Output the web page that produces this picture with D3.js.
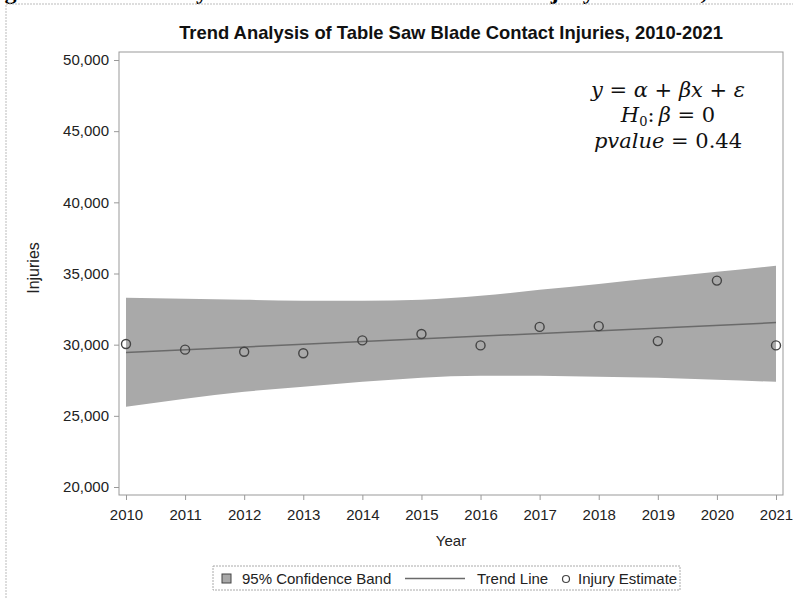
<body style="margin:0;background:#fff">
<script src="https://d3js.org/d3.v7.min.js"></script>
<script>
    const years = [2010, 2011, 2012, 2013, 2014, 2015, 2016, 2017, 2018, 2019, 2020, 2021];
    const injuries = [30050, 29650, 29500, 29400, 30300, 30750, 29950, 31250, 31300, 30250, 34500, 29950];
    const bandUpper = [33290, 33220, 33150, 33080, 33080, 33150, 33430, 33850, 34270, 34700, 35120, 35540];
    const bandLower = [25640, 26200, 26690, 27040, 27390, 27680, 27820, 27820, 27750, 27680, 27540, 27390];
    const trendYears = [2010, 2021];
    const trendValues = [29450, 31550];
    const yTicks = [20000, 25000, 30000, 35000, 40000, 45000, 50000];
    const legendLabels = ["95% Confidence Band", "Trend Line", "Injury Estimate"];

    const width = 793;
    const height = 598;
    const frame = {left: 119, top: 52, right: 783, bottom: 495};
    const font = "'Liberation Sans', Arial, sans-serif";
    const captionFont = "'Liberation Serif', 'Times New Roman', serif";
    const mathFont = "'DejaVu Serif', 'Liberation Serif', serif";

    const xScale = d3.scaleLinear()
        .domain([2010, 2021])
        .range([126, 776]);

    const yScale = d3.scaleLinear()
        .domain([20000, 50000])
        .range([487, 60]);

    const svg = d3.select("body")
        .append("svg")
        .attr("width", width)
        .attr("height", height)
        .style("display", "block");

    // clipped figure caption above the graph border
    svg.append("text")
        .attr("x", 400)
        .attr("y", -1)
        .attr("text-anchor", "middle")
        .style("font-family", captionFont)
        .style("font-weight", "bold")
        .style("font-size", "24px")
        .text("Figure 4. Trend Analysis of Table Saw Blade Contact Injury Estimates, 2010-2021");

    // outer graph border
    svg.append("path")
        .attr("d", "M6," + height + "V4H" + width)
        .attr("fill", "none")
        .attr("stroke", "#bbb")
        .attr("stroke-dasharray", "2,1");

    // confidence band
    const bandData = years.map((yr, i) => ({x: yr, lo: bandLower[i], hi: bandUpper[i]}));
    svg.append("path")
        .datum(bandData)
        .attr("fill", "#a9a9a9")
        .attr("d", d3.area()
            .curve(d3.curveMonotoneX)
            .x(d => xScale(d.x))
            .y0(d => yScale(d.lo))
            .y1(d => yScale(d.hi)));

    // trend line
    svg.append("path")
        .datum(trendYears.map((yr, i) => [yr, trendValues[i]]))
        .attr("fill", "none")
        .attr("stroke", "#6a6a6a")
        .attr("stroke-width", 1.5)
        .attr("d", d3.line().x(d => xScale(d[0])).y(d => yScale(d[1])));

    // injury estimates
    svg.selectAll("circle.pt")
        .data(years)
        .enter()
        .append("circle")
        .attr("class", "pt")
        .attr("cx", yr => xScale(yr))
        .attr("cy", (yr, i) => yScale(injuries[i]))
        .attr("r", 4.5)
        .attr("fill", "none")
        .attr("stroke", "#444")
        .attr("stroke-width", 1.4);

    // plot frame
    svg.append("rect")
        .attr("x", frame.left)
        .attr("y", frame.top)
        .attr("width", frame.right - frame.left)
        .attr("height", frame.bottom - frame.top)
        .attr("fill", "none")
        .attr("stroke", "#999");

    // axes
    const yAxis = d3.axisLeft(yScale)
        .tickValues(yTicks)
        .tickSize(5)
        .tickPadding(5)
        .tickFormat(d3.format(","));

    const xAxis = d3.axisBottom(xScale)
        .tickValues(years)
        .tickSize(5)
        .tickPadding(9)
        .tickFormat(d3.format("d"));

    const gy = svg.append("g")
        .attr("transform", "translate(" + frame.left + ",0)")
        .call(yAxis);

    const gx = svg.append("g")
        .attr("transform", "translate(0," + frame.bottom + ")")
        .call(xAxis);

    [gx, gy].forEach(g => {
        g.select(".domain").remove();
        g.selectAll("line").attr("stroke", "#999");
        g.selectAll("text")
            .attr("fill", "#222")
            .style("font-family", font)
            .style("font-size", "15px");
    });

    // titles
    svg.append("text")
        .attr("x", 451)
        .attr("y", 39)
        .attr("text-anchor", "middle")
        .style("font-family", font)
        .style("font-weight", "bold")
        .style("font-size", "18.4px")
        .attr("fill", "#111")
        .text("Trend Analysis of Table Saw Blade Contact Injuries, 2010-2021");

    svg.append("text")
        .attr("x", 451)
        .attr("y", 546)
        .attr("text-anchor", "middle")
        .style("font-family", font)
        .style("font-size", "15px")
        .attr("fill", "#222")
        .text("Year");

    svg.append("text")
        .attr("transform", "translate(39,268) rotate(-90)")
        .attr("text-anchor", "middle")
        .style("font-family", font)
        .style("font-size", "16px")
        .attr("fill", "#222")
        .text("Injuries");

    // model annotation
    const eq = svg.append("g")
        .style("font-family", mathFont)
        .style("font-size", "21px")
        .attr("fill", "#111");

    const line1 = eq.append("text").attr("x", 668).attr("y", 97).attr("text-anchor", "middle");
    line1.append("tspan").style("font-style", "italic").text("y");
    line1.append("tspan").text(" = ");
    line1.append("tspan").style("font-style", "italic").text("α");
    line1.append("tspan").text(" + ");
    line1.append("tspan").style("font-style", "italic").text("βx");
    line1.append("tspan").text(" + ");
    line1.append("tspan").style("font-style", "italic").text("ε");

    const line2 = eq.append("text").attr("x", 668).attr("y", 122).attr("text-anchor", "middle");
    line2.append("tspan").style("font-style", "italic").text("H");
    line2.append("tspan").attr("dy", 4).style("font-size", "13px").text("0");
    line2.append("tspan").attr("dy", -4).text(":\u2009");
    line2.append("tspan").style("font-style", "italic").text("β");
    line2.append("tspan").text(" = 0");

    const line3 = eq.append("text").attr("x", 668).attr("y", 148).attr("text-anchor", "middle");
    line3.append("tspan").style("font-style", "italic").text("pvalue");
    line3.append("tspan").text(" = 0.44");

    // legend
    const legend = svg.append("g");
    legend.append("rect")
        .attr("x", 213)
        .attr("y", 566)
        .attr("width", 467)
        .attr("height", 24)
        .attr("fill", "none")
        .attr("stroke", "#aaa")
        .attr("stroke-dasharray", "2,1");

    legend.append("rect")
        .attr("x", 222)
        .attr("y", 574)
        .attr("width", 9)
        .attr("height", 9)
        .attr("fill", "#a9a9a9")
        .attr("stroke", "#444");

    legend.append("line")
        .attr("x1", 405)
        .attr("x2", 465)
        .attr("y1", 578.5)
        .attr("y2", 578.5)
        .attr("stroke", "#6a6a6a")
        .attr("stroke-width", 1.5);

    legend.append("circle")
        .attr("cx", 566)
        .attr("cy", 579)
        .attr("r", 3.5)
        .attr("fill", "none")
        .attr("stroke", "#444")
        .attr("stroke-width", 1.2);

    const legendX = [242, 477, 578];
    legend.selectAll("text")
        .data(legendLabels)
        .enter()
        .append("text")
        .attr("x", (d, i) => legendX[i])
        .attr("y", 584)
        .style("font-family", font)
        .style("font-size", "15px")
        .attr("fill", "#222")
        .text(d => d);
</script>
</body>
